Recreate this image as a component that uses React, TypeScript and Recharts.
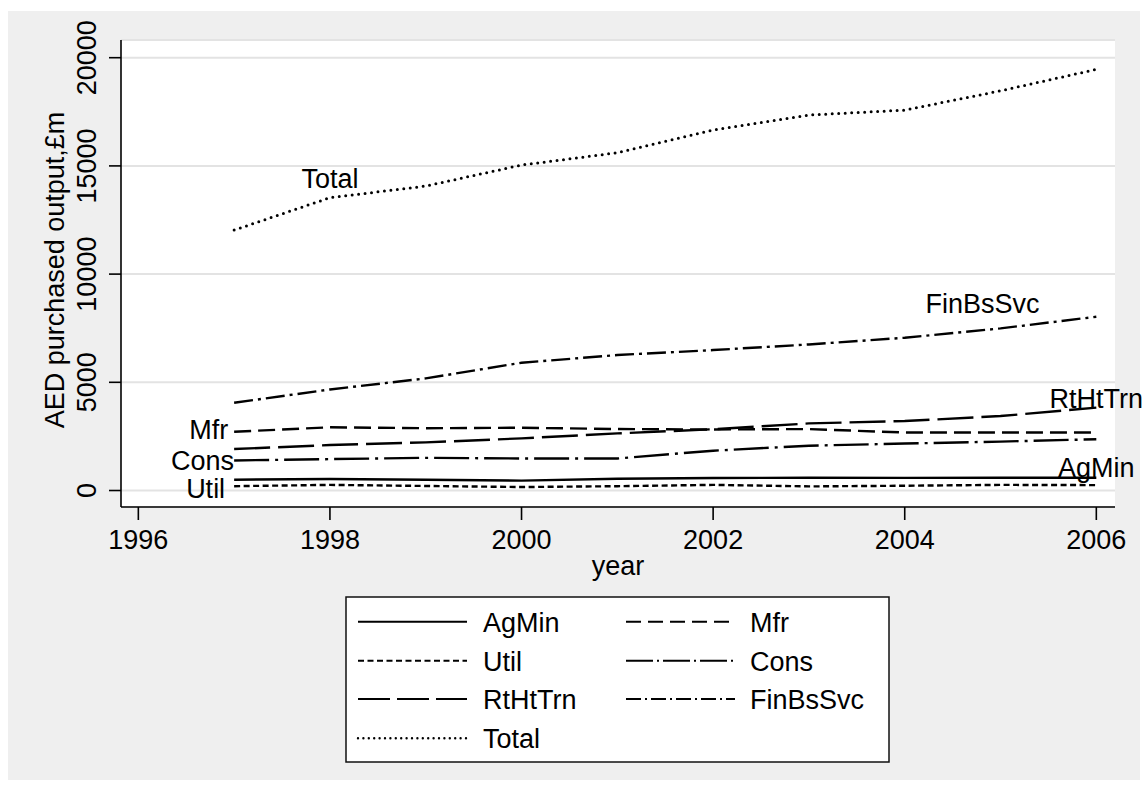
import React from 'react';
import { LineChart, Line, XAxis, YAxis, CartesianGrid, LabelList, Label } from 'recharts';

// ---------- data ----------
const years = [1997, 1998, 1999, 2000, 2001, 2002, 2003, 2004, 2005, 2006];
const agMin = [500, 530, 500, 455, 545, 578, 592, 585, 592, 590];
const mfr = [2717, 2920, 2880, 2900, 2840, 2820, 2840, 2680, 2680, 2680];
const util = [200, 260, 210, 160, 200, 260, 190, 220, 260, 250];
const cons = [1390, 1450, 1510, 1480, 1480, 1840, 2070, 2170, 2260, 2370];
const rtHtTrn = [1917, 2100, 2225, 2410, 2640, 2830, 3100, 3210, 3440, 3830];
const finBsSvc = [4056, 4670, 5180, 5905, 6260, 6490, 6750, 7060, 7490, 8030];
const total = [12035, 13530, 14070, 15040, 15610, 16655, 17350, 17580, 18470, 19460];

const seriesNames = ['AgMin', 'Mfr', 'Util', 'Cons', 'RtHtTrn', 'FinBsSvc', 'Total'];
const xTicks = [1996, 1998, 2000, 2002, 2004, 2006];
const yTicks = [0, 5000, 10000, 15000, 20000];
const yTitle = 'AED purchased output,£m';
const xTitle = 'year';

const seriesValues: Record<string, number[]> = {
  AgMin: agMin,
  Mfr: mfr,
  Util: util,
  Cons: cons,
  RtHtTrn: rtHtTrn,
  FinBsSvc: finBsSvc,
  Total: total,
};

const data = years.map((year, i) => {
  const row: Record<string, number> = { year };
  seriesNames.forEach((n) => {
    row[n] = seriesValues[n][i];
  });
  return row;
});

// ---------- styles ----------
const FONT = '"Liberation Sans", Arial, Helvetica, sans-serif';
const FS = 27;

type St = { dash?: string; legendDash?: string; width: number; cap?: 'round' | 'butt' };
const STYLE: Record<string, St> = {
  AgMin: { width: 2.4 },
  Mfr: { dash: '17 7', legendDash: '15 7', width: 2.4 },
  Util: { dash: '6 3.5', legendDash: '6 3.5', width: 2.4 },
  Cons: { dash: '35 6 3 6', legendDash: '27 4 2 4', width: 2.4 },
  RtHtTrn: { dash: '36 8', legendDash: '32 7', width: 2.4 },
  FinBsSvc: { dash: '19 5 3 5', legendDash: '15 4 2 4', width: 2.4 },
  Total: { dash: '0 6.5', legendDash: '0 5.4', width: 3, cap: 'round' },
};

const LABELS: Record<string, { index: number; anchor: 'start' | 'middle' | 'end'; dx: number; dy: number }> = {
  Total: { index: 1, anchor: 'middle', dx: 0, dy: -10 },
  FinBsSvc: { index: 8, anchor: 'middle', dx: -18, dy: -15 },
  RtHtTrn: { index: 9, anchor: 'middle', dx: 0, dy: 0 },
  AgMin: { index: 9, anchor: 'middle', dx: 0, dy: -1 },
  Mfr: { index: 0, anchor: 'end', dx: -6, dy: 7 },
  Cons: { index: 0, anchor: 'end', dx: 0, dy: 10 },
  Util: { index: 0, anchor: 'end', dx: -9, dy: 12 },
};

const XTick = (props: any) => {
  const { x, y, payload } = props;
  return (
    <text x={x} y={y + 28.5} textAnchor="middle" fontFamily={FONT} fontSize={FS} fill="#000">
      {payload.value}
    </text>
  );
};

const YTick = (props: any) => {
  const { x, y, payload } = props;
  const bx = x - 12.5;
  return (
    <text
      x={bx}
      y={y}
      transform={`rotate(-90 ${bx} ${y})`}
      textAnchor="middle"
      fontFamily={FONT}
      fontSize={FS}
      fill="#000"
    >
      {payload.value}
    </text>
  );
};

const makeLabel = (name: string) => (props: any) => {
  const cfg = LABELS[name];
  const { x, y, index } = props;
  if (index !== cfg.index || x == null || y == null) return null;
  return (
    <text
      x={x + cfg.dx}
      y={y + cfg.dy}
      textAnchor={cfg.anchor}
      fontFamily={FONT}
      fontSize={FS}
      fill="#000"
    >
      {name}
    </text>
  );
};

const LegendBox = () => {
  const rowsY = [24.7, 63.7, 102, 141.3];
  const cols = [
    { lx1: 12, lx2: 121, tx: 137 },
    { lx1: 280, lx2: 389, tx: 404 },
  ];
  return (
    <svg width={545} height={167} style={{ position: 'absolute', left: 337, top: 585 }}>
      <rect x={1} y={1} width={543} height={165} fill="#fff" stroke="#111" strokeWidth={1.5} />
      {seriesNames.map((n, i) => {
        const c = cols[i % 2];
        const ry = rowsY[Math.floor(i / 2)] + 1;
        const s = STYLE[n];
        return (
          <g key={n}>
            <line
              x1={c.lx1 + 1}
              x2={c.lx2 + 1}
              y1={ry}
              y2={ry}
              stroke="#000"
              strokeWidth={n === 'Total' ? 2.4 : 2}
              strokeDasharray={s.legendDash}
              strokeLinecap={s.cap || 'butt'}
            />
            <text x={c.tx + 1} y={ry + 10} fontFamily={FONT} fontSize={FS} fill="#000">
              {n}
            </text>
          </g>
        );
      })}
    </svg>
  );
};

export default function App() {
  return (
    <div
      style={{
        position: 'absolute',
        left: 8,
        top: 11,
        width: 1132,
        height: 769,
        background: '#efefef',
      }}
    >
      <LineChart
        width={1140}
        height={769}
        data={data}
        margin={{ top: 29, right: 33, bottom: 193, left: 0 }}
      >
        <CartesianGrid vertical={false} stroke="#e3e3e3" strokeWidth={2} fill="#ffffff" fillOpacity={1} />
        <XAxis
          dataKey="year"
          type="number"
          domain={[1995.819, 2006.195]}
          ticks={xTicks}
          allowDataOverflow
          height={80}
          tickSize={13}
          tickMargin={0}
          tick={<XTick />}
          axisLine={{ stroke: '#000', strokeWidth: 1.6 }}
          tickLine={{ stroke: '#000', strokeWidth: 1.6 }}
          interval={0}
        >
          <Label
            content={() => (
              <text x={610} y={564} textAnchor="middle" fontFamily={FONT} fontSize={FS} fill="#000">
                {xTitle}
              </text>
            )}
          />
        </XAxis>
        <YAxis
          type="number"
          domain={[-762, 20818]}
          ticks={yTicks}
          allowDataOverflow
          width={113}
          tickSize={12}
          tickMargin={0}
          tick={<YTick />}
          axisLine={{ stroke: '#000', strokeWidth: 1.6 }}
          tickLine={{ stroke: '#000', strokeWidth: 1.6 }}
          interval={0}
        >
          <Label
            content={() => (
              <text
                x={55.5}
                y={259}
                transform="rotate(-90 55.5 259)"
                textAnchor="middle"
                fontFamily={FONT}
                fontSize={FS}
                fill="#000"
              >
                {yTitle}
              </text>
            )}
          />
        </YAxis>
        {seriesNames.map((n) => {
          const s = STYLE[n];
          return (
            <Line
              key={n}
              dataKey={n}
              type="linear"
              stroke="#000"
              strokeWidth={s.width}
              strokeDasharray={s.dash}
              strokeLinecap={s.cap || 'butt'}
              dot={false}
              activeDot={false}
              isAnimationActive={false}
            >
              <LabelList dataKey={n} content={makeLabel(n)} />
            </Line>
          );
        })}
      </LineChart>
      <LegendBox />
    </div>
  );
}
